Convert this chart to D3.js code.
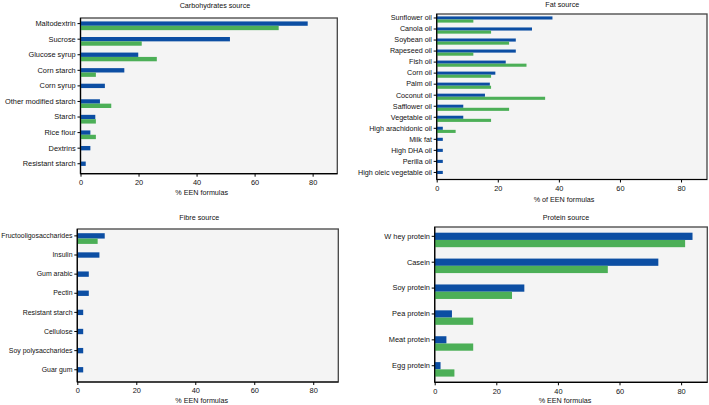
<!DOCTYPE html>
<html><head><meta charset="utf-8">
<script src="https://cdn.jsdelivr.net/npm/d3@7"></script>
<style>body{margin:0;background:#fff}svg{display:block}text{font-family:"Liberation Sans",Arial,sans-serif;fill:#111}</style>
</head><body>
<svg id="c" width="709" height="405"></svg>
<script>
const carbCats = ["Maltodextrin","Sucrose","Glucose syrup","Corn starch","Corn syrup","Other modified starch","Starch","Rice flour","Dextrins","Resistant starch"];
const carbBlue = [78.3,51.5,19.9,15.1,8.4,6.7,5.1,3.4,3.4,1.8];
const carbGreen = [68.3,21.1,26.3,5.3,null,10.6,5.3,5.3,null,null];

const fatCats = ["Sunflower oil","Canola oil","Soybean oil","Rapeseed oil","Fish oil","Corn oil","Palm oil","Coconut oil","Safflower oil","Vegetable oil","High arachidonic oil","Milk fat","High DHA oil","Perilla oil","High oleic vegetable oil"];
const fatBlue = [37.9,31.2,25.9,25.9,22.6,19.2,17.4,15.8,8.7,8.7,2.0,2.0,2.0,2.0,2.0];
const fatGreen = [12.0,17.8,23.7,12.0,29.4,17.8,17.8,35.5,23.7,17.8,6.2,null,null,null,null];

const fibreCats = ["Fructooligosaccharides","Insulin","Gum arabic","Pectin","Resistant starch","Cellulose","Soy polysaccharides","Guar gum"];
const fibreBlue = [9.3,7.5,3.9,3.9,2.0,2.0,2.0,2.0];
const fibreGreen = [6.9,null,null,null,null,null,null,null];

const protCats = ["W hey protein","Casein","Soy protein","Pea protein","Meat protein","Egg protein"];
const protBlue = [83.7,72.6,29.1,5.6,3.8,1.9];
const protGreen = [81.3,56.2,25.1,12.5,12.5,6.4];

const xTicks = [0,20,40,60,80];
const xMax = 88.5;

const svg = d3.select("#c");
const BLUE = "#0c4ea3", GREEN = "#4caf57";

function panel(cfg){
  const {cats, blue, green, x0, y0, x1, y1, title, tx, ty, xlabel, lx, ly, fs} = cfg;
  const g = svg.append("g");
  const x = d3.scaleLinear().domain([0, xMax]).range([x0, x1]);
  const y = d3.scaleBand().domain(cats).range([y0, y1]).paddingInner(0.44).paddingOuter(0.22);
  const bw = y.bandwidth();
  g.append("rect").attr("x", x0).attr("y", y0).attr("width", x1 - x0).attr("height", y1 - y0)
    .attr("fill", "#f4f4f4").attr("stroke", "#444").attr("stroke-width", 1.3);
  g.selectAll(".b").data(cats).join("rect")
    .attr("x", x(0)).attr("y", d => y(d)).attr("height", bw / 2)
    .attr("width", (d, i) => x(blue[i]) - x(0)).attr("fill", BLUE);
  g.selectAll(".g").data(cats.filter((d, i) => green[i] != null)).join("rect")
    .attr("x", x(0)).attr("y", d => y(d) + bw / 2).attr("height", bw / 2)
    .attr("width", d => x(green[cats.indexOf(d)]) - x(0)).attr("fill", GREEN);
  const ya = g.append("g").attr("transform", `translate(${x0},${-bw / 4})`)
    .call(d3.axisLeft(y).tickSize(3).tickPadding(1.8));
  ya.select(".domain").remove();
  ya.selectAll("text").style("font-size", fs + "px").attr("fill", "#111");
  const xa = g.append("g").attr("transform", `translate(0,${y1})`)
    .call(d3.axisBottom(x).tickValues(xTicks).tickSize(3).tickPadding(3));
  xa.select(".domain").remove();
  xa.selectAll("text").style("font-size", "7.4px").attr("fill", "#111");
  g.append("line").attr("x1", x0).attr("x2", x0).attr("y1", y0).attr("y2", y1).attr("stroke", "#000").attr("stroke-width", 1.2);
  g.append("line").attr("x1", x0).attr("x2", x1).attr("y1", y1).attr("y2", y1).attr("stroke", "#000").attr("stroke-width", 1.2);
  g.append("text").attr("x", tx).attr("y", ty).attr("text-anchor", "middle").attr("dy", "0.35em").style("font-size", "7.2px").text(title);
  g.append("text").attr("x", lx).attr("y", ly).attr("text-anchor", "middle").attr("dy", "0.35em").style("font-size", "7.2px").text(xlabel);
}

panel({cats: carbCats, blue: carbBlue, green: carbGreen, x0: 80.5, y0: 18, x1: 337.3, y1: 173.7, fs: 7.4,
  title: "Carbohydrates source", tx: 215, ty: 5, xlabel: "% EEN formulas", lx: 201.7, ly: 192.7});
panel({cats: fatCats, blue: fatBlue, green: fatGreen, x0: 436.7, y0: 14, x1: 707, y1: 179.5, fs: 7.2,
  title: "Fat source", tx: 562.3, ty: 4.7, xlabel: "% of EEN formulas", lx: 564, ly: 199.5});
panel({cats: fibreCats, blue: fibreBlue, green: fibreGreen, x0: 77.3, y0: 229, x1: 338.3, y1: 382, fs: 6.95,
  title: "Fibre source", tx: 199.3, ty: 217.7, xlabel: "% EEN formulas", lx: 201.7, ly: 400.5});
panel({cats: protCats, blue: protBlue, green: protGreen, x0: 434.7, y0: 227, x1: 707.3, y1: 382.3, fs: 7.4,
  title: "Protein source", tx: 566, ty: 217.7, xlabel: "% EEN formulas", lx: 565, ly: 400.5});
</script>
</body></html>
